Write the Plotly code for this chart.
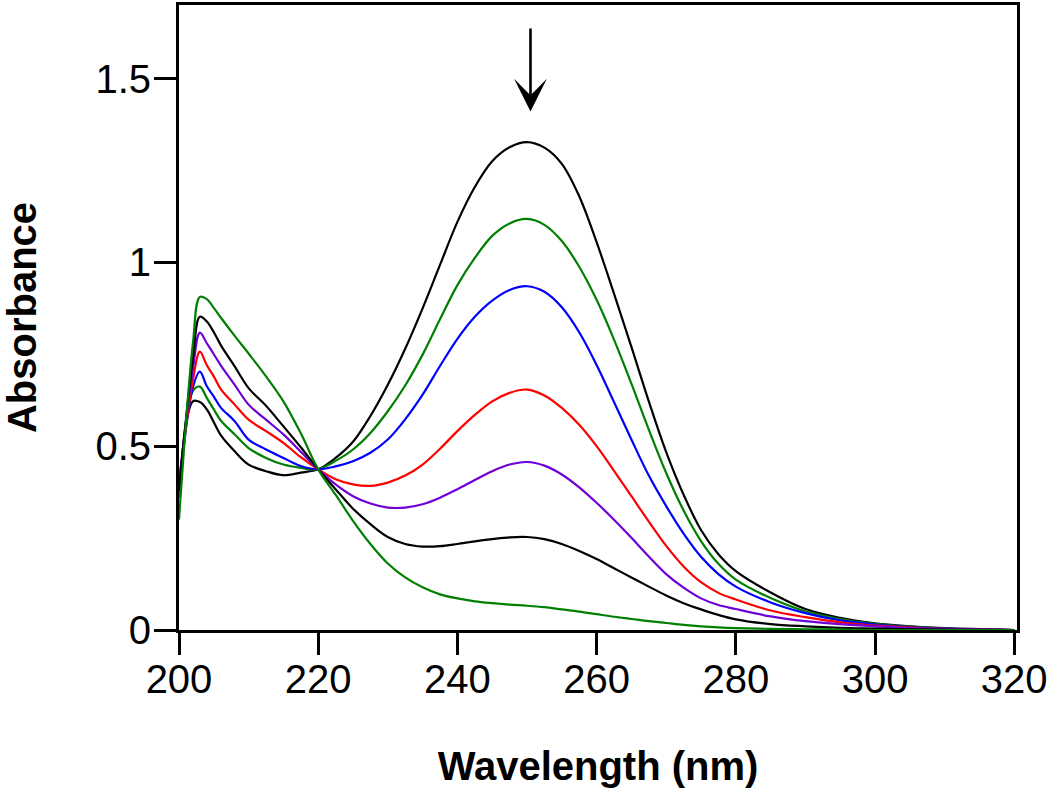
import plotly.graph_objects as go

wavelength = [200, 202, 203, 204, 205, 206, 208, 210, 212.5, 215, 217.5, 220, 222.5, 225, 227.5,
              230, 232.5, 235, 237.5, 240, 242.5, 245, 247.5, 250, 252.5, 255, 257.5, 260, 262.5,
              265, 267.5, 270, 272.5, 275, 277.5, 280, 285, 290, 295, 300, 305, 310, 320]

abs_1_black = [0.36, 0.622, 0.62, 0.60, 0.565, 0.53, 0.486, 0.45, 0.432, 0.421, 0.428, 0.437, 0.468, 0.512, 0.582,
               0.667, 0.765, 0.875, 0.993, 1.110, 1.205, 1.275, 1.313, 1.327, 1.312, 1.268, 1.180, 1.055, 0.915,
               0.770, 0.622, 0.484, 0.368, 0.272, 0.206, 0.160, 0.102, 0.057, 0.033, 0.018, 0.010, 0.005, 0.0]
abs_2_green = [0.36, 0.65, 0.662, 0.631, 0.60, 0.57, 0.532, 0.495, 0.468, 0.450, 0.441, 0.437, 0.460, 0.491, 0.536,
               0.595, 0.665, 0.749, 0.845, 0.938, 1.012, 1.072, 1.106, 1.118, 1.102, 1.058, 0.988, 0.898, 0.790,
               0.670, 0.545, 0.427, 0.325, 0.242, 0.180, 0.137, 0.087, 0.051, 0.030, 0.017, 0.009, 0.004, 0.0]
abs_3_blue = [0.38, 0.66, 0.703, 0.663, 0.635, 0.605, 0.568, 0.518, 0.491, 0.468, 0.446, 0.437, 0.445, 0.459, 0.482,
              0.518, 0.573, 0.640, 0.718, 0.792, 0.852, 0.896, 0.925, 0.935, 0.920, 0.878, 0.810, 0.721, 0.620,
              0.518, 0.420, 0.337, 0.262, 0.199, 0.152, 0.118, 0.075, 0.046, 0.026, 0.015, 0.008, 0.004, 0.0]
abs_4_red = [0.40, 0.68, 0.757, 0.72, 0.69, 0.655, 0.613, 0.572, 0.541, 0.509, 0.470, 0.437, 0.41, 0.396, 0.392,
             0.401, 0.420, 0.450, 0.493, 0.541, 0.585, 0.622, 0.645, 0.654, 0.638, 0.604, 0.558, 0.500, 0.433,
             0.364, 0.295, 0.229, 0.173, 0.130, 0.101, 0.083, 0.053, 0.035, 0.021, 0.012, 0.007, 0.003, 0.0]
abs_5_purple = [0.40, 0.71, 0.809, 0.78, 0.75, 0.72, 0.667, 0.613, 0.572, 0.532, 0.485, 0.437, 0.396, 0.364, 0.344,
                0.333, 0.333, 0.342, 0.360, 0.383, 0.408, 0.432, 0.450, 0.457, 0.447, 0.423, 0.388, 0.346, 0.300,
                0.251, 0.200, 0.152, 0.115, 0.086, 0.068, 0.057, 0.037, 0.024, 0.016, 0.010, 0.005, 0.003, 0.0]
abs_6_black = [0.38, 0.74, 0.852, 0.839, 0.81, 0.775, 0.717, 0.658, 0.610, 0.554, 0.497, 0.437, 0.383, 0.330, 0.288,
               0.253, 0.234, 0.227, 0.228, 0.234, 0.241, 0.247, 0.252, 0.253, 0.247, 0.234, 0.215, 0.193, 0.168,
               0.143, 0.118, 0.094, 0.073, 0.056, 0.041, 0.029, 0.016, 0.010, 0.006, 0.004, 0.002, 0.001, 0.0]
abs_7_green = [0.30, 0.78, 0.906, 0.90, 0.876, 0.850, 0.800, 0.752, 0.690, 0.622, 0.535, 0.437, 0.368, 0.297, 0.234,
               0.181, 0.143, 0.116, 0.097, 0.086, 0.078, 0.073, 0.069, 0.066, 0.062, 0.056, 0.050, 0.043, 0.036,
               0.030, 0.024, 0.019, 0.014, 0.010, 0.007, 0.005, 0.003, 0.002, 0.001, 0.0, 0.0, 0.0, 0.0]

series = [abs_1_black, abs_2_green, abs_3_blue, abs_4_red, abs_5_purple, abs_6_black, abs_7_green]
colors = ["#000000", "#007F00", "#0000FF", "#FF0000", "#6E00D8", "#000000", "#007F00"]

x_ticks = [200, 220, 240, 260, 280, 300, 320]
y_ticks = [0, 0.5, 1, 1.5]
y_ticktext = ["0", "0.5", "1", "1.5"]

arrow_wavelength = 250.5
arrow_tip = 1.41
arrow_tail = 1.64

FONT = "Liberation Sans, Arial, sans-serif"

fig = go.Figure()
for vals, col in zip(series, colors):
    fig.add_trace(go.Scatter(x=wavelength, y=vals, mode="lines",
                             line=dict(color=col, width=2.2, shape="spline", smoothing=1.0),
                             showlegend=False, hoverinfo="skip"))

fig.add_annotation(x=arrow_wavelength, y=arrow_tip, ax=arrow_wavelength, ay=arrow_tail,
                   xref="x", yref="y", axref="x", ayref="y", text="",
                   showarrow=True, arrowhead=3, arrowsize=2.1, arrowwidth=2.6, arrowcolor="black")

fig.update_layout(
    width=1050, height=790,
    margin=dict(l=179, r=32, t=2, b=160),
    paper_bgcolor="white", plot_bgcolor="white",
    font=dict(family=FONT, color="black"),
    xaxis=dict(range=[200, 320.4], tickvals=x_ticks, ticks="outside", ticklen=22, tickwidth=3,
               tickcolor="black", showline=True, linewidth=3, linecolor="black", mirror=True,
               showgrid=False, zeroline=False, tickfont=dict(size=40, family=FONT),
               ticklabeloverflow="allow", ticklabelstandoff=-10,
               title=dict(text="<b>Wavelength (nm)</b>", font=dict(size=40, family=FONT), standoff=52)),
    yaxis=dict(range=[0, 1.70], tickvals=y_ticks, ticktext=y_ticktext, ticks="outside", ticklen=22,
               tickwidth=3, tickcolor="black", showline=True, linewidth=3, linecolor="black", mirror=True,
               showgrid=False, zeroline=False, tickfont=dict(size=40, family=FONT),
               ticklabelstandoff=-5,
               title=dict(text="<b>Absorbance</b>", font=dict(size=40, family=FONT), standoff=55)),
)

fig.write_html("out.html", config={"displayModeBar": False},
               post_script="document.body.style.margin='0';document.body.style.overflow='hidden';")
